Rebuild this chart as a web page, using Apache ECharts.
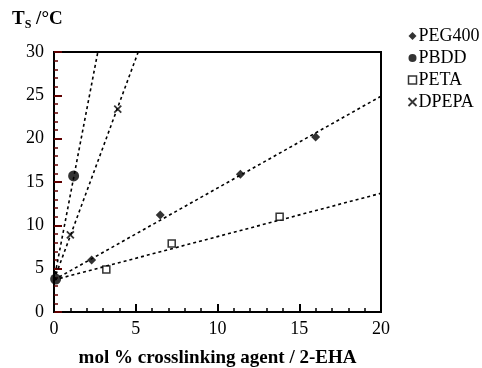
<!DOCTYPE html>
<html><head><meta charset="utf-8">
<script src="https://cdn.jsdelivr.net/npm/echarts@6/dist/echarts.min.js"></script>
<style>html,body{margin:0;padding:0;background:#fff}#c{width:482px;height:368px}</style>
</head><body><div id="c"></div>
<script>
var xTicks = [0, 5, 10, 15, 20];
var yTicks = [0, 5, 10, 15, 20, 25, 30];
var peg400 = [[2.3, 6.0], [6.5, 11.2], [11.4, 15.9], [16.0, 20.2]];
var pbdd = [[0.1, 3.8], [1.2, 15.7]];
var peta = [[3.2, 4.9], [7.2, 7.9], [13.8, 11.0]];
var dpepa = [[1.0, 8.9], [3.9, 23.4]];
var pegFit = [[0, 3.7], [20, 24.9]];
var pbddFit = [[0, 3.7], [2.68, 30]];
var petaFit = [[0, 3.7], [20, 13.7]];
var dpepaFit = [[0, 3.7], [5.15, 30]];

var serif = 'Liberation Serif';
var crossPath = 'path://M0,0L10,10M10,0L0,10';
var fitStyle = {color: '#000', width: 1.6, type: [3, 3]};
function fit(d) {
  return {type: 'line', data: d, symbol: 'none', lineStyle: fitStyle, silent: true, z: 1};
}
var chart = echarts.init(document.getElementById('c'));
chart.setOption({
  animation: false,
  grid: {left: 54, right: 101, top: 52, bottom: 56, outerBoundsMode: 'none', containLabel: false,
         show: true, borderColor: '#000', borderWidth: 2, backgroundColor: 'transparent'},
  legend: {
    orient: 'vertical', left: 401, top: 22, itemGap: 4, itemWidth: 8, itemHeight: 8,
    textStyle: {fontFamily: serif, fontSize: 18, color: '#000', padding: [0, 0, 0, -3]},
    data: [
      {name: 'PEG400', icon: 'diamond', itemStyle: {color: '#000'}},
      {name: 'PBDD', icon: 'circle', itemStyle: {color: '#000'}},
      {name: 'PETA', icon: 'rect', itemStyle: {color: '#fff', borderColor: '#000', borderWidth: 1.5}},
      {name: 'DPEPA', icon: crossPath, itemStyle: {color: 'none', borderColor: '#000', borderWidth: 1.8}}
    ]
  },
  xAxis: {
    type: 'value', min: 0, max: 20, interval: 5, splitNumber: 4,
    name: 'mol % crosslinking agent / 2-EHA', nameLocation: 'middle', nameGap: 37,
    nameTextStyle: {fontFamily: serif, fontSize: 19, fontWeight: 'bold', color: '#000'},
    axisLine: {show: true, onZero: false, lineStyle: {color: '#000', width: 2}},
    axisTick: {show: true, inside: true, length: 8, lineStyle: {color: 'black', width: 2}},
    minorTick: {show: true, splitNumber: 5, length: 4, lineStyle: {color: 'black', width: 1.5}},
    axisLabel: {show: true, fontFamily: serif, fontSize: 18, color: '#000', margin: 8},
    splitLine: {show: false}
  },
  yAxis: {
    type: 'value', min: 0, max: 30, interval: 5,
    axisLine: {show: true, onZero: false, lineStyle: {color: '#000', width: 2}},
    axisTick: {show: true, inside: true, length: 8, lineStyle: {color: '#600000', width: 2}},
    minorTick: {show: true, splitNumber: 5, length: 4, lineStyle: {color: '#600000', width: 1.5}},
    axisLabel: {show: true, fontFamily: serif, fontSize: 18, color: '#000', margin: 10},
    splitLine: {show: false}
  },
  graphic: [{
    type: 'text', left: 12, top: 10,
    style: {
      text: '{t|T}{s|S}{t| /°C}',
      rich: {
        t: {fontFamily: serif, fontSize: 19, fontWeight: 'bold', fill: '#000'},
        s: {fontFamily: serif, fontSize: 12, fontWeight: 'bold', fill: '#000', verticalAlign: 'bottom', padding: [10, 0, 0, 0]}
      }
    }
  }],
  series: [
    fit(pegFit), fit(pbddFit), fit(petaFit), fit(dpepaFit),
    {name: 'PEG400', type: 'scatter', data: peg400, symbol: 'diamond', symbolSize: 9, itemStyle: {color: '#000'}, z: 3},
    {name: 'PBDD', type: 'scatter', data: pbdd, symbol: 'circle', symbolSize: 11, clip: false, itemStyle: {color: '#000'}, z: 3},
    {name: 'PETA', type: 'scatter', data: peta, symbol: 'rect', symbolSize: 7, itemStyle: {color: '#fff', borderColor: '#000', borderWidth: 1.5}, z: 3},
    {name: 'DPEPA', type: 'scatter', data: dpepa, symbol: crossPath, symbolSize: 7, itemStyle: {color: 'none', borderColor: '#000', borderWidth: 1.8}, z: 3}
  ]
});
</script></body></html>
